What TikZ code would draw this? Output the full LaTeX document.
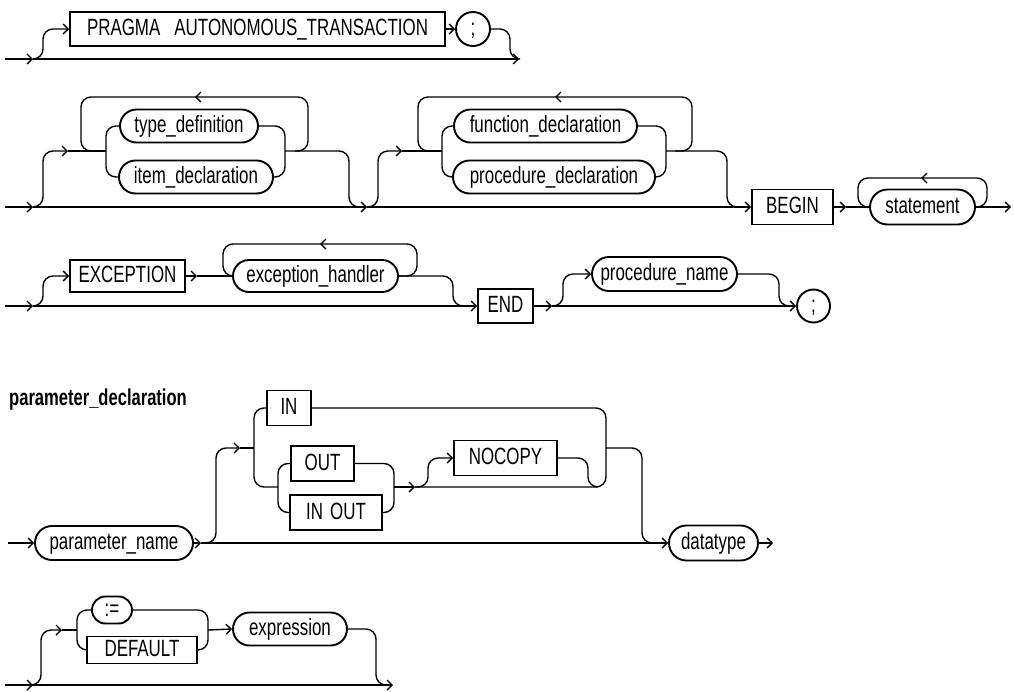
\documentclass[tikz,border=0pt]{standalone}
\usepackage{fontspec}
\setmainfont{Liberation Sans}[FakeStretch=0.72]
\usetikzlibrary{shapes.misc,arrows.meta}
\begin{document}
\begin{tikzpicture}[x=1pt,y=-1pt,
  every node/.style={font=\fontsize{23.5}{27}\selectfont, inner sep=0pt, text height=16.5pt, text depth=3.5pt},
  kw/.style={draw, line width=1.9pt, rectangle, minimum height=34pt},
  nt/.style={draw, line width=1.9pt, rounded rectangle, minimum height=33pt},
  term/.style={draw, line width=1.9pt, circle, minimum size=34pt},
  ln/.style={line width=1.4pt, rounded corners=10pt},
  arr/.style={-{Straight Barb[length=5pt,width=10pt]}}
]
\useasboundingbox (0,0) rectangle (1014,691);

% ---------- Row 1 ----------
\node[kw, minimum width=375pt] (pragma) at (257.5,29) {PRAGMA\hspace{0.6em}AUTONOMOUS\_TRANSACTION};
\node[term] (semi1) at (473,29) {;};
\coordinate (r1s) at (5,59);
\coordinate (r1a) at (33,59);
\coordinate (r1e) at (519,59);
\draw[ln,arr] (r1s) -- (r1a);
\draw[ln,arr] (r1a) -- (r1e);
\draw[ln,arr] (r1a) -| (43,29) -- (pragma.west);
\draw[ln,arr] (pragma) -- (semi1);
\draw[ln] (semi1.east) -| (510,59) -- (r1e);

% ---------- Row 2 ----------
\node[nt, minimum width=138pt] (typedef) at (189,126) {type\_definition};
\node[nt, minimum width=154pt] (itemdecl) at (196,177) {item\_declaration};
\node[nt, minimum width=183pt] (funcdecl) at (545.5,126) {function\_declaration};
\node[nt, minimum width=202pt] (procdecl) at (554,177) {procedure\_declaration};
\node[kw, minimum width=81pt, minimum height=35pt] (begin) at (792.5,207) {BEGIN};
\node[nt, minimum width=105pt, minimum height=35pt] (stmt) at (922.5,207) {statement};
\coordinate (r2s) at (5,207);
\coordinate (r2a) at (33,207);
\coordinate (r2b) at (367,207);
\coordinate (r2c) at (846,207);
\draw[ln,arr] (r2s) -- (r2a);
\draw[ln,arr] (r2a) -- (r2b);
\draw[ln,arr] (r2b) -- (begin.west);
% group A
\draw[ln,arr] (r2a) -| (43,151) -- (68,151);
\draw[ln] (68,151) -- (106,151);
\draw[ln,arr] (295,151) -| (308,97) -- (195,97);
\draw[ln] (197,97) -| (81,151) -- (92,151);
\draw[ln] (typedef.west) -| (106,177) -- (itemdecl.west);
\draw[ln] (typedef.east) -| (285,177) -- (itemdecl.east);
\draw[ln] (285,151) -| (349,207) -- (360,207);
% group B
\draw[ln,arr] (r2b) -| (378,151) -- (402,151);
\draw[ln] (402,151) -- (442,151);
\draw[ln,arr] (675,151) -| (692,97) -- (555,97);
\draw[ln] (557,97) -| (418,151) -- (428,151);
\draw[ln] (funcdecl.west) -| (442,177) -- (procdecl.west);
\draw[ln] (funcdecl.east) -| (666,177) -- (procdecl.east);
\draw[ln] (666,151) -| (727,207) -- (740,207);
% BEGIN statement
\draw[ln,arr] (begin.east) -- (r2c);
\draw[ln] (r2c) -- (stmt.west);
\draw[ln,arr] (stmt.east) -| (987,178) -- (921,178);
\draw[ln] (923,178) -| (858,207) -- (868,207);
\draw[ln,arr] (stmt.east) -- (1011,207);

% ---------- Row 3 ----------
\node[kw, minimum width=115pt, minimum height=32pt] (exc) at (127.5,276) {EXCEPTION};
\node[nt, minimum width=165pt, minimum height=32pt] (handler) at (315.5,276) {exception\_handler};
\node[kw, minimum width=55pt] (endk) at (505.5,306) {END};
\node[nt, minimum width=145pt, minimum height=34pt] (procname) at (664.5,274) {procedure\_name};
\node[term, minimum size=33pt] (semi2) at (813.5,306) {;};
\coordinate (r3s) at (5,306);
\coordinate (r3a) at (33,306);
\coordinate (r3c) at (552,306);
\draw[ln,arr] (r3s) -- (r3a);
\draw[ln,arr] (r3a) -- (endk.west);
\draw[ln,arr] (r3a) -| (43,276) -- (exc.west);
\draw[ln,arr] (exc.east) -- (197,276);
\draw[ln] (197,276) -- (handler.west);
\draw[ln,arr] (handler.east) -| (417,244) -- (320,244);
\draw[ln] (322,244) -| (223,276) -- (231,276);
\draw[ln] (handler.east) -| (453,306) -- (465,306);
\draw[ln,arr] (endk.east) -- (r3c);
\draw[ln,arr] (r3c) -- (semi2.west);
\draw[ln,arr] (r3c) -| (563,274) -- (procname.west);
\draw[ln] (procname.east) -| (779,306) -- (789,306);

% ---------- Row 4 ----------
\node[anchor=base west, font=\fontsize{23}{27}\selectfont\bfseries, text height=, text depth=] (title) at (9,405) {parameter\_declaration};
\node[nt, minimum width=158pt, minimum height=34pt] (pname) at (114,543) {parameter\_name};
\node[nt, minimum width=89pt, minimum height=35pt] (dtype) at (713.5,543) {datatype};
\node[kw, minimum width=44pt, minimum height=35pt] (in) at (289,408) {IN};
\node[kw, minimum width=63pt, minimum height=35pt] (out) at (322.5,463.5) {OUT};
\node[kw, minimum width=92pt, minimum height=35pt] (inout) at (336,512.5) {IN\hspace{0.3em}OUT};
\node[kw, minimum width=103pt, minimum height=35pt] (nocopy) at (505.5,458) {NOCOPY};
\coordinate (r4s) at (8,543);
\coordinate (r4a) at (201,543);
\coordinate (r4b) at (240,448);
\coordinate (r4c) at (415,487);
\draw[ln,arr] (r4s) -- (pname.west);
\draw[ln,arr] (pname.east) -- (r4a);
\draw[ln,arr] (r4a) -- (dtype.west);
\draw[ln,arr] (dtype.east) -- (773,543);
\draw[ln,arr] (r4a) -| (216,448) -- (r4b);
\draw[ln] (r4b) -- (254,448);
\draw[ln] (in.west) -| (254,487) -- (278,487);
\draw[ln] (out.west) -| (278,512.5) -- (inout.west);
\draw[ln] (out.east) -| (394,512.5) -- (inout.east);
\draw[ln,arr] (394,487) -- (r4c);
\draw[ln] (in.east) -| (606,487) -- (r4c);
\draw[ln,arr] (r4c) -| (428,458) -- (nocopy.west);
\draw[ln] (nocopy.east) -| (588,487) -- (597,487);
\draw[ln] (606,448) -| (642,543) -- (652,543);

% ---------- Row 5 ----------
\node[nt, minimum width=40pt, minimum height=27pt] (assign) at (112,610) {:=};
\node[kw, minimum width=110pt, minimum height=27pt] (default) at (142,650) {DEFAULT};
\node[nt, minimum width=114pt, minimum height=33pt] (expr) at (290,629) {expression};
\coordinate (r5s) at (5,685);
\coordinate (r5a) at (33,685);
\coordinate (r5b) at (62,630);
\draw[ln,arr] (r5s) -- (r5a);
\draw[ln,arr] (r5a) -- (393,685);
\draw[ln,arr] (r5a) -| (41,630) -- (r5b);
\draw[ln] (r5b) -- (77,630);
\draw[ln] (assign.west) -| (77,650) -- (default.west);
\draw[ln] (assign.east) -| (208,650) -- (default.east);
\draw[ln,arr] (208,630) -- (expr.west);
\draw[ln] (expr.east) -| (376,685) -- (386,685);
\end{tikzpicture}
\end{document}
